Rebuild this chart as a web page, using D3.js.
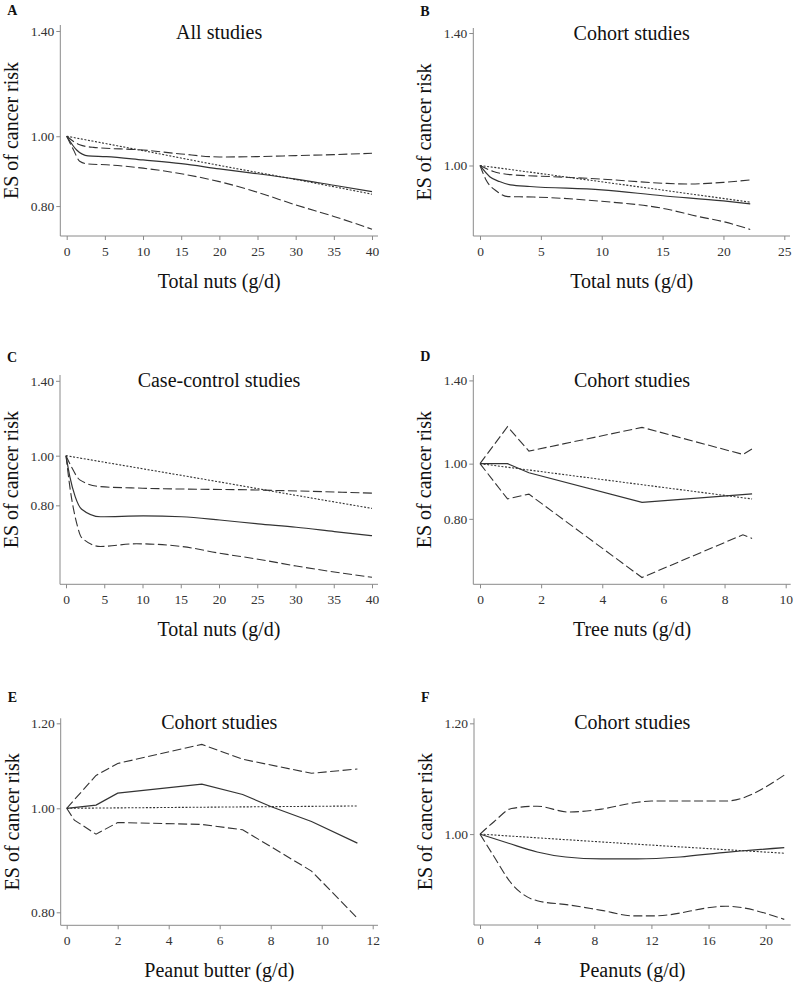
<!DOCTYPE html>
<html><head><meta charset="utf-8">
<script src="https://cdn.jsdelivr.net/npm/d3@7"></script>
<style>
body{margin:0;background:#fff;}
svg{display:block;}
svg text{font-family:"Liberation Serif","Times New Roman",Times,serif !important;}
</style></head><body>
<svg id="c" width="795" height="986"></svg>
<script>
// ---- Data (x in g/d, y = effect size) ----
const panelLetters = ["A","B","C","D","E","F"];
const panelTitles = ["All studies","Cohort studies","Case-control studies","Cohort studies","Cohort studies","Cohort studies"];
const xLabels = ["Total nuts (g/d)","Total nuts (g/d)","Total nuts (g/d)","Tree nuts (g/d)","Peanut butter (g/d)","Peanuts (g/d)"];
const yTickSets = [[0.80,1.00,1.40],[1.00,1.40],[0.80,1.00,1.40],[0.80,1.00,1.40],[0.80,1.00,1.20],[1.00,1.20]];
const xTickSets = [[0,5,10,15,20,25,30,35,40],[0,5,10,15,20,25],[0,5,10,15,20,25,30,35,40],[0,2,4,6,8,10],[0,2,4,6,8,10,12],[0,4,8,12,16,20]];

// Panel A
const A_solid = [[0,1.0],[1.3,0.957],[2.8,0.939],[5.2,0.937],[10,0.927],[15,0.916],[20,0.901],[25,0.887],[30,0.872],[35,0.855],[40,0.838]];
const A_linear = [[0,1.0],[10,0.955],[20,0.911],[30,0.871],[40,0.831]];
const A_upper = [[0,1.0],[1.7,0.973],[3.5,0.965],[10,0.957],[15,0.945],[20,0.936],[25,0.937],[30,0.940],[35,0.943],[40,0.947]];
const A_lower = [[0,1.0],[0.9,0.957],[1.7,0.923],[2.8,0.915],[5.2,0.913],[10,0.903],[15,0.887],[20,0.865],[25,0.836],[30,0.803],[35,0.774],[40,0.743]];
// Panel B
const B_solid = [[0,1.0],[0.8,0.972],[1.6,0.960],[2.5,0.952],[4.1,0.948],[10,0.940],[15,0.926],[20,0.914],[22.2,0.907]];
const B_linear = [[0,1.0],[11.1,0.955],[22.2,0.911]];
const B_upper = [[0,1.0],[1.1,0.985],[2.5,0.977],[6,0.972],[10,0.966],[15,0.956],[17,0.954],[20,0.958],[22.2,0.964]];
const B_lower = [[0,1.0],[0.5,0.964],[1.4,0.936],[2.3,0.924],[4.4,0.923],[10,0.913],[15,0.897],[18,0.878],[20,0.867],[22.2,0.850]];
// Panel C
const C_solid = [[0,1.0],[0.5,0.910],[1.2,0.832],[2.05,0.786],[4.5,0.760],[10.1,0.763],[15.1,0.760],[20.1,0.749],[25.1,0.736],[30.1,0.725],[35.1,0.711],[40,0.698]];
const C_linear = [[0,1.0],[10,0.943],[20,0.889],[30,0.837],[40,0.789]];
const C_upper = [[0,1.0],[0.7,0.952],[1.8,0.897],[4.5,0.870],[10,0.864],[25,0.857],[40,0.845]];
const C_lower = [[0,1.0],[0.5,0.870],[1.4,0.738],[2.05,0.692],[4.5,0.665],[9.2,0.673],[15.1,0.665],[20.1,0.645],[25.1,0.628],[30.1,0.609],[40,0.579]];
// Panel D
const D_solid = [[0,1.0],[0.9,1.0],[1.6,0.964],[5.3,0.855],[8.9,0.885]];
const D_linear = [[0,1.0],[4.45,0.931],[8.9,0.867]];
const D_upper = [[0,1.0],[0.9,1.161],[1.6,1.052],[5.3,1.158],[8.6,1.038],[8.9,1.061]];
const D_lower = [[0,1.0],[0.9,0.867],[1.6,0.884],[5.3,0.631],[8.6,0.750],[8.9,0.739]];
// Panel E
const E_solid = [[0,1.0],[1.15,1.007],[2.0,1.033],[5.3,1.053],[6.9,1.030],[8.0,1.004],[9.6,0.972],[11.4,0.928]];
const E_linear = [[0,1.0],[5.7,1.0025],[11.4,1.005]];
const E_upper = [[0,1.0],[1.15,1.073],[2.0,1.101],[5.3,1.147],[6.9,1.111],[9.6,1.078],[11.4,1.088]];
const E_lower = [[0,1.0],[0.3,0.975],[1.15,0.946],[2.0,0.970],[5.3,0.966],[6.9,0.955],[9.6,0.874],[11.4,0.790]];
// Panel F
const F_solid = [[0,1.0],[2.0,0.985],[4.0,0.971],[6.0,0.963],[8.5,0.960],[11,0.960],[14,0.963],[17,0.970],[21.3,0.978]];
const F_linear = [[0,1.0],[10.65,0.984],[21.3,0.969]];
const F_upper = [[0,1.0],[1.0,1.021],[2.2,1.043],[4.0,1.047],[6.2,1.037],[8.5,1.042],[10.8,1.053],[12,1.056],[17.2,1.056],[21.3,1.102]];
const F_lower = [[0,1.0],[1.0,0.963],[2.2,0.922],[4.0,0.896],[6.2,0.890],[8.5,0.882],[10.8,0.874],[12.2,0.874],[17.2,0.888],[21.3,0.869]];

const seriesSets = [
  [A_solid,A_linear,A_upper,A_lower],
  [B_solid,B_linear,B_upper,B_lower],
  [C_solid,C_linear,C_upper,C_lower],
  [D_solid,D_linear,D_upper,D_lower],
  [E_solid,E_linear,E_upper,E_lower],
  [F_solid,F_linear,F_upper,F_lower]
];

// ---- Layout (pixel geometry, separate from data) ----
const layout = [
  {ax:60.3, x0:66.7, x1:372, xd:[0,40], xEnd:378, yTop:25, yBot:236, yd:[0.727,1.427], curve:"smooth", titleY:39, letterY:15},
  {ax:473.3, x0:480, x1:784.3, xd:[0,25], xEnd:790, yTop:28, yBot:236, yd:[0.836,1.418], curve:"smooth", titleY:39.5, letterY:16},
  {ax:60, x0:66, x1:372, xd:[0,40], xEnd:378, yTop:375, yBot:584.3, yd:[0.561,1.437], curve:"smooth", titleY:387, letterY:362},
  {ax:473.3, x0:480, x1:785.7, xd:[0,10], xEnd:790.7, yTop:375, yBot:584.3, yd:[0.614,1.431], curve:"linear", titleY:387, letterY:361},
  {ax:60.7, x0:66.7, x1:372.7, xd:[0,12], xEnd:378, yTop:718.3, yBot:925.3, yd:[0.778,1.213], curve:"linear", titleY:728.5, letterY:702},
  {ax:474, x0:480, x1:765.7, xd:[0,20], xEnd:790.7, yTop:718.3, yBot:925, yd:[0.861,1.21], curve:"smooth", titleY:728.5, letterY:702}
];

const svg = d3.select("#c");
const FONT = "'Liberation Serif','Times New Roman',Times,serif";
const axisColor = "#8a8a8a";
const lineColor = "#333";
const styles = [
  {dash:null, w:1.2},
  {dash:"2,1.6", w:1.1},
  {dash:"9,3.5", w:1.1},
  {dash:"9,3.5", w:1.1}
];

layout.forEach((L, i) => {
  const g = svg.append("g");
  const x = d3.scaleLinear().domain(L.xd).range([L.x0, L.x1]);
  const y = d3.scaleLog().domain(L.yd).range([L.yBot, L.yTop]);

  g.append("line").attr("x1",L.ax).attr("x2",L.ax).attr("y1",L.yTop).attr("y2",L.yBot)
    .attr("stroke",axisColor).attr("stroke-width",1);
  g.append("line").attr("x1",L.ax).attr("x2",L.xEnd).attr("y1",L.yBot).attr("y2",L.yBot)
    .attr("stroke",axisColor).attr("stroke-width",1);

  const yAxis = d3.axisLeft(y).tickValues(yTickSets[i]).tickFormat(d3.format(".2f")).tickSize(4).tickPadding(2);
  const ya = g.append("g").attr("transform",`translate(${L.ax},0)`).call(yAxis);
  ya.attr("font-family",FONT);
  ya.select(".domain").remove();
  ya.selectAll(".tick line").attr("stroke",axisColor);
  ya.selectAll(".tick text").attr("fill","#333").style("font-size","13.5px").style("font-family",FONT);

  const xAxis = d3.axisBottom(x).tickValues(xTickSets[i]).tickFormat(d3.format("d")).tickSize(4).tickPadding(6);
  const xa = g.append("g").attr("transform",`translate(0,${L.yBot})`).call(xAxis);
  xa.attr("font-family",FONT);
  xa.select(".domain").remove();
  xa.selectAll(".tick line").attr("stroke",axisColor);
  xa.selectAll(".tick text").attr("fill","#333").style("font-size","13.5px").style("font-family",FONT);

  const curve = L.curve === "smooth" ? d3.curveMonotoneX : d3.curveLinear;
  const line = d3.line().x(d=>x(d[0])).y(d=>y(d[1])).curve(curve);
  seriesSets[i].forEach((s, k) => {
    g.append("path").datum(s).attr("d",line).attr("fill","none")
      .attr("stroke",lineColor).attr("stroke-width",styles[k].w)
      .attr("stroke-dasharray",styles[k].dash);
  });

  const cx = (L.ax + L.xEnd)/2;
  g.append("text").attr("x",cx).attr("y",L.titleY).attr("text-anchor","middle")
    .style("font-family",FONT).style("font-size","20px").attr("fill","#111").text(panelTitles[i]);
  g.append("text").attr("x",cx).attr("y",L.yBot+52).attr("text-anchor","middle")
    .style("font-family",FONT).style("font-size","20px").attr("fill","#111").text(xLabels[i]);
  const cy = (L.yTop + L.yBot)/2;
  g.append("text").attr("transform",`translate(${L.ax-42},${cy}) rotate(-90)`).attr("text-anchor","middle")
    .style("font-family",FONT).style("font-size","20px").attr("fill","#111").text("ES of cancer risk");
  g.append("text").attr("x",L.ax-53).attr("y",L.letterY).style("font-family",FONT).style("font-size","14px").style("font-weight","bold")
    .attr("fill","#111").text(panelLetters[i]);
});
</script>
</body></html>
